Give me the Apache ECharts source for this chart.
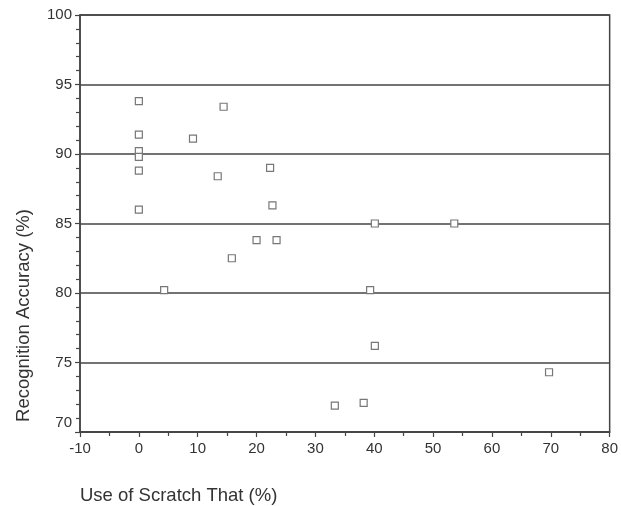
<!DOCTYPE html>
<html>
<head>
<meta charset="utf-8">
<script src="https://cdn.jsdelivr.net/npm/echarts@6/dist/echarts.min.js"></script>
<style>html,body{margin:0;padding:0;background:#fff}#c{width:621px;height:506px}</style>
</head>
<body>
<div id="c"></div>
<script>
// Use of Scratch That (%)
const scratchUse = [0, 14.4, 0, 9.2, 0, 0, 0, 13.4, 22.3, 0, 22.7, 20.0, 23.4, 15.8, 4.3, 40.1, 53.6, 39.3, 40.1, 69.7, 33.3, 38.2];
// Recognition Accuracy (%)
const accuracy   = [93.8, 93.4, 91.4, 91.1, 90.2, 89.8, 88.8, 88.4, 89.0, 86.0, 86.3, 83.8, 83.8, 82.5, 80.2, 85.0, 85.0, 80.2, 76.2, 74.3, 71.9, 72.1];
const xTicks = [-10, 0, 10, 20, 30, 40, 50, 60, 70, 80];
const yTicks = [70, 75, 80, 85, 90, 95, 100];

const points = scratchUse.map((x, i) => [x, accuracy[i]]);
const font = 'Liberation Sans, Arial, Helvetica, sans-serif';
const chart = echarts.init(document.getElementById('c'), null, {renderer: 'canvas'});
chart.setOption({
  animation: false,
  backgroundColor: '#fff',
  grid: {left: 80, right: 11, top: 15, bottom: 74, show: true, borderColor: '#444', borderWidth: 1.5, backgroundColor: 'transparent'},
  xAxis: {
    type: 'value', min: xTicks[0], max: xTicks[xTicks.length - 1], interval: 10,
    name: 'Use of Scratch That (%)', nameLocation: 'start', nameGap: 0,
    nameTextStyle: {align: 'left', verticalAlign: 'top', padding: [54, 0, 0, 0], fontSize: 18.5, color: '#333', fontFamily: font},
    axisLine: {show: true, onZero: false, lineStyle: {color: '#444', width: 1.5}},
    axisTick: {show: true, inside: false, length: 5, lineStyle: {color: '#444', width: 1.2}},
    minorTick: {show: true, splitNumber: 2, length: 4, lineStyle: {color: '#444', width: 1.2}},
    axisLabel: {margin: 9, fontSize: 15, color: '#333', fontFamily: font},
    splitLine: {show: false}
  },
  yAxis: {
    type: 'value', min: yTicks[0], max: yTicks[yTicks.length - 1], interval: 5,
    name: 'Recognition Accuracy (%)', nameLocation: 'middle', nameGap: 47, nameRotate: 90,
    nameTextStyle: {fontSize: 18.5, color: '#333', fontFamily: font, padding: [0, 184, 0, 0]},
    axisLine: {show: true, onZero: false, lineStyle: {color: '#444', width: 1.5}},
    axisTick: {show: true, inside: false, length: 5, lineStyle: {color: '#444', width: 1.2}},
    minorTick: {show: true, splitNumber: 5, length: 4, lineStyle: {color: '#444', width: 1.2}},
    axisLabel: {
      margin: 8, fontSize: 15, color: '#333', fontFamily: font,
      formatter: v => v === yTicks[0] ? '{up|' + v + '}' : String(v),
      rich: {up: {fontSize: 15, color: '#333', fontFamily: font, padding: [0, 0, 18, 0]}}
    },
    splitLine: {show: true, lineStyle: {color: '#444', width: 1.5}}
  },
  series: [{
    type: 'scatter',
    data: points,
    symbol: 'rect',
    symbolSize: 7,
    itemStyle: {color: '#fff', borderColor: '#777', borderWidth: 1.2, opacity: 1}
  }]
});
</script>
</body>
</html>
